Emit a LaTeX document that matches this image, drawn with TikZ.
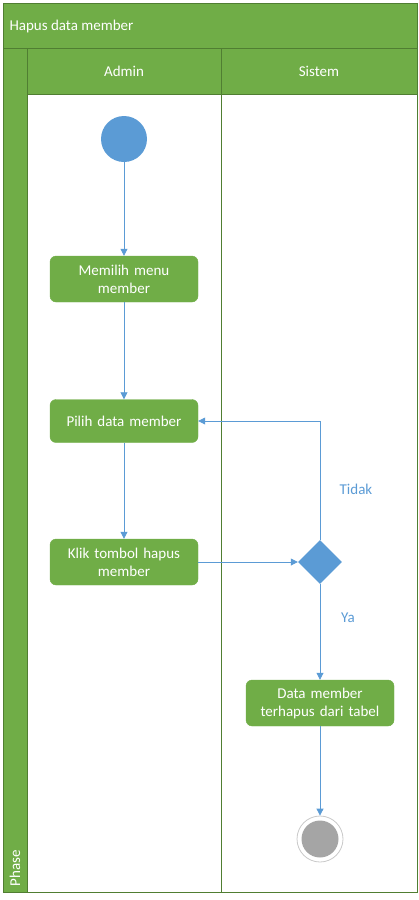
\documentclass[tikz,border=0pt]{standalone}
\usepackage{fontspec}
\setmainfont{Carlito}
\usetikzlibrary{shapes.geometric,arrows.meta}
\definecolor{lgreen}{HTML}{70AD47}
\definecolor{dgreen}{HTML}{507E32}
\definecolor{lblue}{HTML}{5B9BD5}
\definecolor{egray}{HTML}{A5A5A5}
\tikzset{
  act/.style={draw=lgreen, fill=lgreen, rounded corners=6pt, minimum width=148pt, minimum height=46pt, text width=144pt, align=center, text=white, font=\fontsize{15}{18}\selectfont, inner sep=1pt},
  flow/.style={draw=lblue, line width=0.8pt, -{Triangle[length=7pt,width=7pt]}},
  lanebox/.style={draw=dgreen, line width=0.8pt},
  hdr/.style={draw=dgreen, fill=lgreen, line width=0.8pt},
  lbl/.style={text=white, font=\fontsize{15}{18}\selectfont},
  guard/.style={text=lblue, font=\fontsize{15}{18}\selectfont}
}
\begin{document}
\begin{tikzpicture}[x=1pt,y=-1pt]
\useasboundingbox (0,0) rectangle (419,900);
% frame
\draw[hdr] (3,3) rectangle (417,48);
\node[lbl, anchor=west] (title) at (6,26) {Hapus data member};
\draw[hdr] (3,48) rectangle (27,892);
\node[lbl, rotate=90, anchor=west] (phase) at (15,890) {Phase};
\draw[hdr] (27,48) rectangle (221,94);
\draw[hdr] (221,48) rectangle (417,94);
\node[lbl] (admin) at (124,71) {Admin};
\node[lbl] (sistem) at (319,71) {Sistem};
\draw[lanebox] (27,94) rectangle (221,892);
\draw[lanebox] (221,94) rectangle (417,892);
% nodes
\node[circle, fill=lblue, minimum size=46pt, inner sep=0pt] (start) at (124,139) {};
\node[act] (memilih) at (124,279) {Memilih menu\\member};
\node[act, minimum height=43pt] (pilih) at (124,421) {Pilih data member};
\node[act] (klik) at (124,562) {Klik tombol hapus\\member};
\node[diamond, fill=lblue, minimum width=44pt, minimum height=44pt, inner sep=0pt] (dec) at (320,562) {};
\node[act] (hapus) at (320,703) {Data member\\terhapus dari tabel};
\node[circle, draw=egray!60, line width=0.8pt, minimum size=46pt, inner sep=0pt] (end) at (320,839) {};
\node[circle, fill=egray, minimum size=37pt, inner sep=0pt] (endin) at (320,839) {};
% edges
\draw[flow] (start) -- (memilih);
\draw[flow] (memilih) -- (pilih);
\draw[flow] (pilih) -- (klik);
\draw[flow] (klik) -- (dec);
\draw[flow] (dec.north) |- (pilih.east);
\draw[flow] (dec) -- (hapus);
\draw[flow] (hapus) -- (end);
\node[guard] (tidak) at (356,489) {Tidak};
\node[guard] (ya) at (348,618) {Ya};
\end{tikzpicture}
\end{document}
